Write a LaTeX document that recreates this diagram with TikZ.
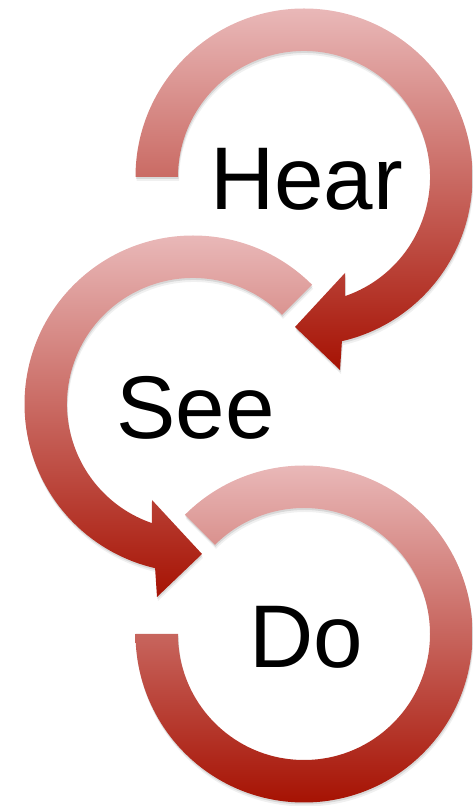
\documentclass[tikz,border=0pt]{standalone}
\usepackage{fontspec}
\setmainfont{Liberation Sans}
\definecolor{lt}{RGB}{233,184,184}
\definecolor{dk}{RGB}{166,18,3}
\newcommand\hearshape{(180:126) -- (180:168.5) arc[start angle=180,end angle=-77,radius=168.5] -- (36,-193) -- (-9,-150) -- (41,-96) -- (-71:126) arc[start angle=-71,end angle=180,radius=126] -- cycle}
\newcommand\seeshape{(45:126) -- (45:168.5) arc[start angle=45,end angle=257,radius=168.5] -- (-36,-193) -- (9,-150) -- (-41,-96) -- (251:126) arc[start angle=251,end angle=45,radius=126] -- cycle}
\newcommand\doshape{(135:126) -- (135:168.5) arc[start angle=135,end angle=-180,radius=168.5] -- (-180:126) arc[start angle=-180,end angle=135,radius=126] -- cycle}
\newcommand\ringpart[3]{%
  \begin{scope}[shift={(0.5,-2)}]\fill[black,opacity=0.10] #1;\end{scope}
  \begin{scope}[shift={(1,-4)}]\fill[black,opacity=0.06] #1;\end{scope}
  \begin{scope}\clip #1;\shade[top color=lt,bottom color=dk] (-200,#2) rectangle (200,#3);\end{scope}}
\tikzset{word/.style={font=\fontsize{89}{89}\selectfont,anchor=base,inner sep=0pt,text=black}}
\begin{document}
\begin{tikzpicture}[x=1pt,y=1pt]
\useasboundingbox (0,0) rectangle (473,806);
\begin{scope}[shift={(304,629)}]\ringpart{\hearshape}{168.5}{-193}\end{scope}
\begin{scope}[shift={(193,402)}]\ringpart{\seeshape}{168.5}{-194}\end{scope}
\begin{scope}[shift={(304,172)}]\ringpart{\doshape}{168.5}{-168.5}\end{scope}
\node[word] (hear) at (306.5,596) {Hear};
\node[word] (see) at (195.7,367) {See};
\node[word] (do) at (306.5,138) {Do};
\end{tikzpicture}
\end{document}
